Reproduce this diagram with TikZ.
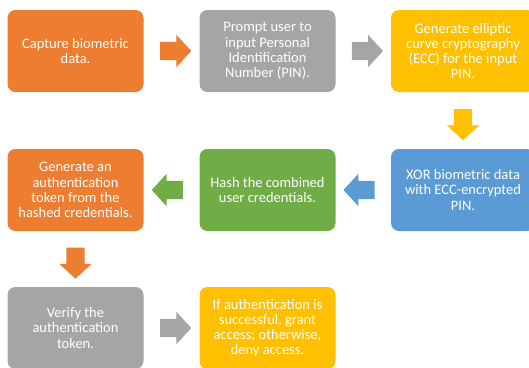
\documentclass[tikz,border=0pt]{standalone}
\usepackage{fontspec}
\setmainfont{Carlito}
\usetikzlibrary{shapes.arrows, calc}
\definecolor{fcorange}{HTML}{ED7D31}
\definecolor{fcgray}{HTML}{A5A5A5}
\definecolor{fcyellow}{HTML}{FFC000}
\definecolor{fcblue}{HTML}{5B9BD5}
\definecolor{fcgreen}{HTML}{70AD47}

\begin{document}
\begin{tikzpicture}[x=1pt, y=-1pt,
  box/.style={rounded corners=8pt, minimum width=136pt, minimum height=82pt,
    inner sep=0pt, align=center, text=white,
    font=\fontsize{14.5}{15.2}\selectfont},
  blockarrow/.style={single arrow, minimum height=31pt, minimum width=32pt,
    single arrow head extend=7pt, single arrow tip angle=95,
    inner sep=9pt}]
\useasboundingbox (0,0) rectangle (529,367);
% first row
\node[box, fill=fcorange] (capture) at (75.5,51) {Capture biometric\\data.};
\node[box, fill=fcgray] (prompt) at (267.5,51) {Prompt user to\\input Personal\\Identification\\Number (PIN).};
\node[box, fill=fcyellow, minimum width=144pt] (ecc) at (463,51) {Generate elliptic\\curve cryptography\\(ECC) for the input\\PIN.};
% second row
\node[box, fill=fcorange] (token) at (75.5,190) {Generate an\\authentication\\token from the\\hashed credentials.};
\node[box, fill=fcgreen] (hash) at (267.5,190) {Hash the combined\\user credentials.};
\node[box, fill=fcblue, minimum width=144pt] (xor) at (463,190) {XOR biometric data\\with ECC-encrypted\\PIN.};
% third row
\node[box, fill=fcgray] (verify) at (75.5,328) {Verify the\\authentication\\token.};
\node[box, fill=fcyellow] (grant) at (267.5,328) {If authentication is\\successful, grant\\access; otherwise,\\deny access.};
% arrows
\node[blockarrow, fill=fcorange] (a1) at ($(capture.east)!0.5!(prompt.west)$) {};
\node[blockarrow, fill=fcgray] (a2) at ($(prompt.east)!0.5!(ecc.west)$) {};
\node[blockarrow, fill=fcyellow, shape border rotate=270] (a3) at ($(ecc.south)!0.5!(xor.north)$) {};
\node[blockarrow, fill=fcblue, shape border rotate=180] (a4) at ($(xor.west)!0.5!(hash.east)$) {};
\node[blockarrow, fill=fcgreen, shape border rotate=180] (a5) at ($(hash.west)!0.5!(token.east)$) {};
\node[blockarrow, fill=fcorange, shape border rotate=270] (a6) at ($(token.south)!0.5!(verify.north)$) {};
\node[blockarrow, fill=fcgray] (a7) at ($(verify.east)!0.5!(grant.west)$) {};
\end{tikzpicture}
\end{document}
